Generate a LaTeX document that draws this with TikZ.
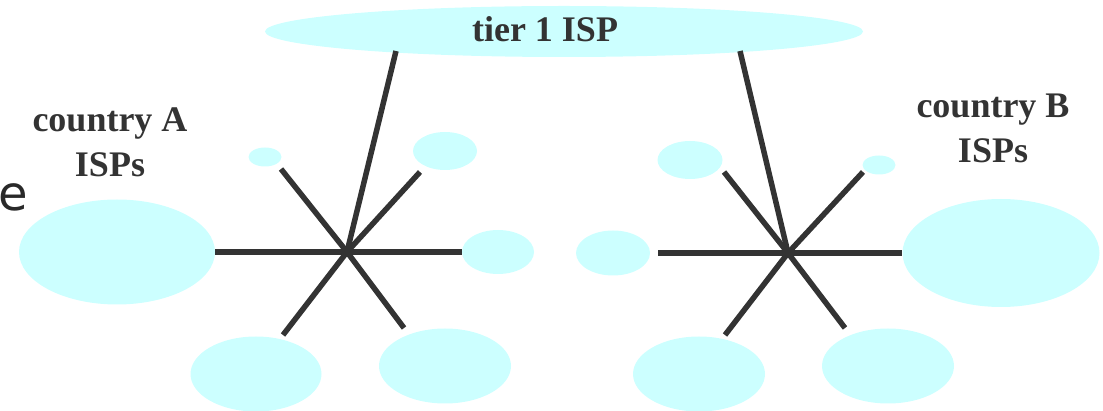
\documentclass[tikz,border=0pt]{standalone}
\usepackage{fontspec}
\setmainfont{Liberation Serif}
\newfontfamily\efont{DejaVu Sans}
\usetikzlibrary{shapes.geometric}
\definecolor{ispfill}{HTML}{CCFFFF}
\definecolor{ink}{HTML}{333333}
\tikzset{
  isp/.style={ellipse, fill=ispfill, draw=none, inner sep=0pt},
  link/.style={draw=ink, line width=5.5pt, line cap=butt},
  lbl/.style={text=ink, font=\fontsize{36}{43}\selectfont\bfseries, inner sep=0pt, anchor=base},
}
\begin{document}
\begin{tikzpicture}[x=1pt, y=-1pt]
\useasboundingbox (0,0) rectangle (1103,411);
% hubs
\coordinate (hubA) at (347,252);
\coordinate (hubB) at (788,253);
% free ends of connectors
\coordinate (aUp) at (396,51);
\coordinate (aTiny) at (281,169);
\coordinate (aTR) at (420,172);
\coordinate (aBL) at (283,335);
\coordinate (aBR) at (404,328);
\coordinate (bUp) at (740,51);
\coordinate (bL) at (658,253);
\coordinate (bTL) at (724,172);
\coordinate (bTiny) at (863,172);
\coordinate (bBL) at (725,335);
\coordinate (bBR) at (845,328);
% ISP clouds
\node[isp, minimum width=598pt, minimum height=51pt] (tier) at (564,31.5) {};
\node[isp, minimum width=196pt, minimum height=105pt] (bigA) at (117,252) {};
\node[isp, minimum width=33pt, minimum height=19pt] (tinyA) at (265,157) {};
\node[isp, minimum width=64pt, minimum height=38pt] (trA) at (445,151) {};
\node[isp, minimum width=72pt, minimum height=44pt] (rA) at (498,252) {};
\node[isp, minimum width=131pt, minimum height=75pt] (blA) at (256,374) {};
\node[isp, minimum width=132pt, minimum height=75pt] (brA) at (445,366) {};
\node[isp, minimum width=74pt, minimum height=45pt] (lB) at (613,253) {};
\node[isp, minimum width=65pt, minimum height=38pt] (tlB) at (690,160) {};
\node[isp, minimum width=33pt, minimum height=19pt] (tinyB) at (879,165) {};
\node[isp, minimum width=197pt, minimum height=108pt] (bigB) at (1001,253) {};
\node[isp, minimum width=132pt, minimum height=75pt] (blB) at (699,374) {};
\node[isp, minimum width=132pt, minimum height=75pt] (brB) at (888,366) {};
% connectors
\draw[link] (hubA) -- (bigA.east);
\draw[link] (hubA) -- (rA.west);
\draw[link] (hubA) -- (aUp);
\draw[link] (hubA) -- (aTiny);
\draw[link] (hubA) -- (aTR);
\draw[link] (hubA) -- (aBL);
\draw[link] (hubA) -- (aBR);
\draw[link] (hubB) -- (bigB.west);
\draw[link] (hubB) -- (bL);
\draw[link] (hubB) -- (bUp);
\draw[link] (hubB) -- (bTL);
\draw[link] (hubB) -- (bTiny);
\draw[link] (hubB) -- (bBL);
\draw[link] (hubB) -- (bBR);
% labels
\node[lbl] (tierlbl) at (545,42) {tier 1 ISP};
\node[lbl] (ca1) at (110,132) {country A};
\node[lbl] (ca2) at (110,177) {ISPs};
\node[lbl] (cb1) at (993,118) {country B};
\node[lbl] (cb2) at (993,163) {ISPs};
\node[text=ink!80!black, font=\efont\fontsize{48}{48}\selectfont, inner sep=0pt, anchor=base east] (efrag) at (28.5,211) {e};
\end{tikzpicture}
\end{document}
